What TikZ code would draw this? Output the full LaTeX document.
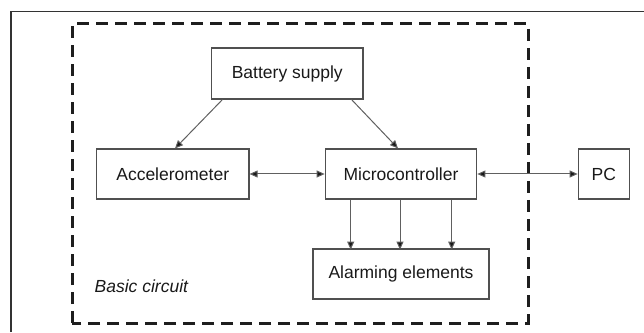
\documentclass[tikz,border=0pt]{standalone}
\usepackage{fontspec}
\setmainfont{Liberation Sans}
\usetikzlibrary{arrows.meta,calc}
\definecolor{boxgray}{HTML}{505050}
\definecolor{linegray}{HTML}{606060}
\definecolor{dashcol}{HTML}{1E1E1E}
\begin{document}
\begin{tikzpicture}[x=1pt,y=1pt,
  blk/.style={draw=boxgray,line width=1.2pt,inner sep=0pt,font=\fontsize{17.5}{20}\selectfont,text=black!90},
  tip/.style={Triangle[length=8pt,width=7pt,fill=black!90]},
  conn/.style={draw=linegray,line width=1pt,-{Triangle[length=8pt,width=7pt,fill=black!90]}},
  biconn/.style={draw=linegray,line width=1pt,{Triangle[length=8pt,width=7pt,fill=black!90]}-{Triangle[length=8pt,width=7pt,fill=black!90]}}
]
\useasboundingbox (0,0) rectangle (644,332);
% outer frame (partially visible)
\draw[draw=black!80,line width=1.3pt] (11,0) -- (11,320.5) -- (644,320.5);
% dashed boundary
\draw[draw=dashcol,line width=3pt,dash pattern=on 12pt off 7pt] (72,9) rectangle (528,308);
% blocks
\node[blk,minimum width=151.5pt,minimum height=51pt] (bat) at (287.25,258.5) {Battery supply};
\node[blk,minimum width=152.5pt,minimum height=50pt] (acc) at (172.75,158) {Accelerometer};
\node[blk,minimum width=151.5pt,minimum height=50pt] (mc) at (401,158) {Microcontroller};
\node[blk,minimum width=51pt,minimum height=50pt] (pc) at (603.75,158) {PC};
\node[blk,minimum width=176pt,minimum height=50pt] (al) at (401,58) {Alarming elements};
\node[anchor=west,inner sep=0pt,font=\fontsize{17.5}{20}\selectfont\itshape,text=black!90] (bc) at (94.5,46) {Basic circuit};
% connectors
\draw[conn] ($(bat.south west)+(11.5,0)$) -- ($(acc.north)+(2.25,0)$);
\draw[conn] ($(bat.south east)+(-12,0)$) -- ($(mc.north)+(-3,0)$);
\draw[biconn] (acc.east) -- (mc.west);
\draw[biconn] (mc.east) -- (pc.west);
\foreach \dx in {-50.3,-1,50.7}
  \draw[conn] ($(mc.south)+(\dx,0)$) -- ($(mc.south)+(\dx,-50)$);
\end{tikzpicture}
\end{document}
